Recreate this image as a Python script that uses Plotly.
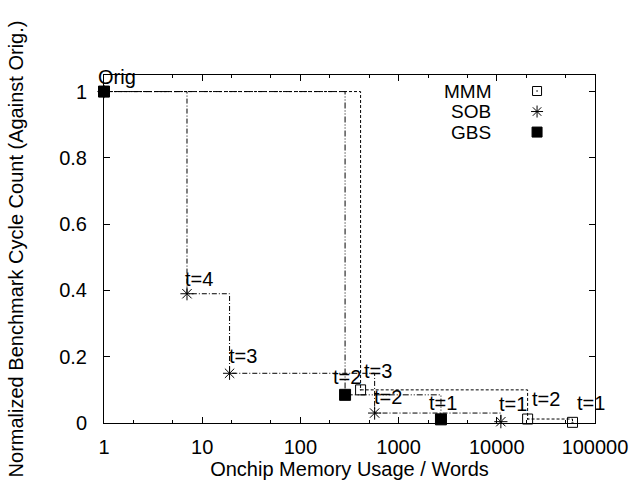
import math
import plotly.graph_objects as go

# ---- data ----
series_names = ["MMM", "SOB", "GBS"]

mmm_x = [1, 410, 20600, 59000]
mmm_y = [1, 0.10, 0.012, 0.002]
mmm_labels = ["", "t=3", "t=2", "t=1"]

sob_x = [1, 7, 19, 570, 11000]
sob_y = [1, 0.39, 0.15, 0.03, 0.004]
sob_labels = ["", "t=4", "t=3", "t=2", "t=1"]

gbs_x = [1, 285, 2700]
gbs_y = [1, 0.085, 0.011]
gbs_labels = ["Orig", "t=2", "t=1"]

x_tickvals = [1, 10, 100, 1000, 10000, 100000]
x_ticktext = ["1", "10", "100", "1000", "10000", "100000"]
y_tickvals = [0, 0.2, 0.4, 0.6, 0.8, 1]
y_ticktext = ["0", "0.2", "0.4", "0.6", "0.8", "1"]

x_title = "Onchip Memory Usage / Words"
y_title = "Normalized Benchmark Cycle Count (Against Orig.)"

# ---- styles ----
FONT = "Liberation Sans, Arial, Helvetica, sans-serif"
FS = 20
KEY_FS = 19
styles = {
    "MMM": dict(dash="3px,2px", symbol="square-open-dot", size=10),
    "SOB": dict(dash="5px,2px,1px,2px", symbol="asterisk-open", size=11),
    "GBS": dict(dash="6px,2px,1px,2px,1px,2px", symbol="square", size=11),
}
# label offsets (xshift to left edge, yshift of text centre) per point
label_shift = {
    "MMM": [(0, 0), (1, 19), (2, 20), (2, 19)],
    "SOB": [(0, 0), (-4, 15), (-3, 17), (-3, 16), (-4, 18)],
    "GBS": [(-8, 15), (-14, 18), (-14, 16)],
}

data = {
    "MMM": (mmm_x, mmm_y, mmm_labels),
    "SOB": (sob_x, sob_y, sob_labels),
    "GBS": (gbs_x, gbs_y, gbs_labels),
}

fig = go.Figure()
annotations = []
for name in series_names:
    xs, ys, labs = data[name]
    st = styles[name]
    fig.add_trace(go.Scatter(
        x=xs, y=ys, mode="lines+markers", name=name, showlegend=False,
        line=dict(color="black", width=1, dash=st["dash"], shape="hv"),
        marker=dict(symbol=st["symbol"], size=st["size"], color="black",
                    line=dict(color="black", width=1)),
        cliponaxis=False,
    ))
    for (xv, yv, lab, sh) in zip(xs, ys, labs, label_shift[name]):
        if not lab:
            continue
        annotations.append(dict(
            x=math.log10(xv), y=yv, xref="x", yref="y", text=lab, showarrow=False,
            xanchor="left", yanchor="middle", xshift=sh[0], yshift=sh[1],
            font=dict(family=FONT, size=FS, color="black"),
        ))

# ---- custom key (text left of symbol, like the reference) ----
key_text_x = 0.79
key_sym_x = 0.882
key_rows = [0.954, 0.895, 0.836]
for name, ky in zip(series_names, key_rows):
    st = styles[name]
    fig.add_trace(go.Scatter(
        x=[key_sym_x], y=[ky], xaxis="x2", yaxis="y2", mode="markers",
        showlegend=False, hoverinfo="skip",
        marker=dict(symbol=st["symbol"], size=st["size"] - 1, color="black",
                    line=dict(color="black", width=1)),
    ))
    annotations.append(dict(
        x=key_text_x, y=ky, xref="x2", yref="y2", text=name, showarrow=False,
        xanchor="right", yanchor="middle", borderpad=0, height=19, valign="middle",
        font=dict(family=FONT, size=KEY_FS, color="black"),
    ))

axis_common = dict(
    showline=True, linecolor="black", linewidth=1, mirror="ticks",
    ticks="inside", ticklen=6, tickwidth=1, tickcolor="black",
    showgrid=False, zeroline=False, automargin=False,
    tickfont=dict(family=FONT, size=FS, color="black"),
)

fig.update_layout(
    width=634, height=488,
    margin=dict(l=104, r=39, t=75, b=65),
    paper_bgcolor="white", plot_bgcolor="white",
    font=dict(family=FONT, size=FS, color="black"),
    showlegend=False,
    xaxis=dict(
        type="log", range=[0, 5], tickvals=x_tickvals, ticktext=x_ticktext,
        ticklabelstandoff=6,
        minor=dict(ticks="inside", ticklen=3, tickcolor="black", tickwidth=1,
                   dtick="D2"),
        title=dict(text=x_title, standoff=1,
                   font=dict(family=FONT, size=FS, color="black")),
        **axis_common,
    ),
    yaxis=dict(
        range=[0, 1.05], tickvals=y_tickvals, ticktext=y_ticktext,
        ticklabelstandoff=12,
        title=dict(text=y_title, standoff=30,
                   font=dict(family=FONT, size=FS, color="black")),
        **axis_common,
    ),
    xaxis2=dict(overlaying="x", range=[0, 1], visible=False, anchor="y2"),
    yaxis2=dict(overlaying="y", range=[0, 1], visible=False, anchor="x2"),
    annotations=annotations,
)

fig.write_html("out.html",
               config={"displayModeBar": False},
               post_script="document.body.style.margin='0';document.body.style.overflow='hidden';")
